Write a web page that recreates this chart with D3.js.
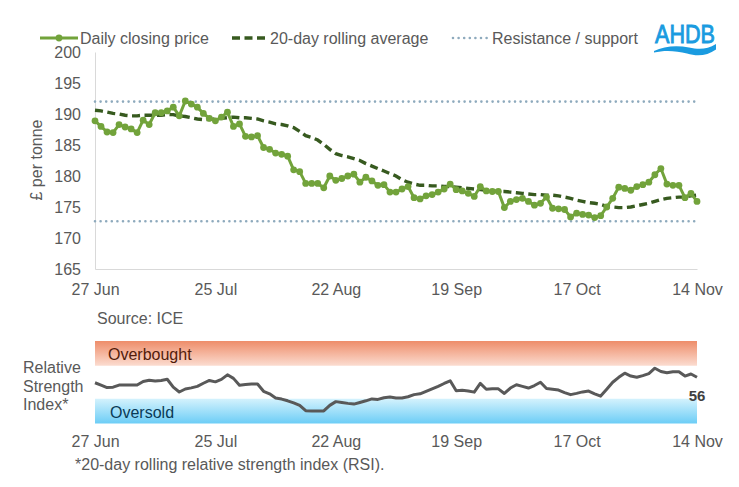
<!DOCTYPE html>
<html>
<head>
<meta charset="utf-8">
<script src="https://cdn.jsdelivr.net/npm/d3@7"></script>
<style>
  body { margin: 0; background: #fff; }
  text { font-family: "Liberation Sans", Arial, sans-serif; }
</style>
</head>
<body>
<div id="chart"></div>
<script>
//Data (one value per trading day, 27 Jun - 14 Nov);
const tickLabels = ["27 Jun", "25 Jul", "22 Aug", "19 Sep", "17 Oct", "14 Nov"];

const price = [
  188.9, 188.0, 187.1, 187.0, 188.3, 187.9, 187.6, 187.0, 189.0, 188.3,
  190.2, 190.2, 190.5, 191.1, 189.7, 192.1, 191.6, 191.1, 190.1, 189.3,
  188.9, 189.5, 190.3, 188.0, 188.4, 186.4, 186.3, 186.5, 184.6, 184.3,
  183.7, 183.5, 183.2, 181.0, 180.7, 178.8, 178.8, 178.8, 178.1, 180.0,
  179.3, 179.6, 180.0, 180.3, 179.0, 179.8, 179.2, 178.5, 178.6, 177.4,
  177.4, 177.9, 178.3, 176.5, 176.3, 176.8, 177.0, 177.4, 177.9, 178.7,
  177.8, 177.6, 177.2, 176.7, 178.3, 177.6, 177.5, 177.5, 174.9, 175.9,
  176.2, 176.4, 175.9, 175.3, 175.6, 176.6, 174.8, 174.7, 174.6, 173.4,
  174.0, 173.8, 173.7, 173.3, 173.6, 175.0, 176.4, 178.2, 178.0, 177.7,
  178.3, 178.6, 179.0, 180.2, 181.2, 178.7, 178.5, 178.5, 176.5, 177.2, 175.9
];

const rollingAvg = [
  190.6, 190.5, 190.3, 190.1, 190.0, 189.8, 189.7, 189.7, 189.8, 189.8,
  189.8, 189.8, 189.9, 189.9, 189.7, 189.6, 189.4, 189.2, 189.1, 189.1,
  189.2, 189.3, 189.4, 189.5, 189.4, 189.4, 189.3, 189.2, 188.9, 188.7,
  188.4, 188.3, 188.1, 187.8, 187.2, 186.5, 186.2, 185.8, 185.1, 184.3,
  183.6, 183.3, 183.1, 182.8, 182.5, 182.0, 181.6, 181.2, 180.8, 180.4,
  180.0, 179.4, 179.0, 178.7, 178.5, 178.5, 178.4, 178.4, 178.3, 178.3,
  178.2, 178.1, 178.0, 177.9, 177.8, 177.7, 177.6, 177.5, 177.5, 177.4,
  177.3, 177.2, 177.1, 177.0, 177.0, 176.9, 176.9, 176.8, 176.6, 176.4,
  176.1, 175.9, 175.7, 175.6, 175.4, 175.1, 175.0, 174.9, 174.9, 175.0,
  175.2, 175.4, 175.6, 175.9, 176.2, 176.4, 176.5, 176.6, 176.6, 176.8, 176.9
];

const rsi = [
  49.4, 46.5, 43.5, 44.0, 46.6, 46.6, 46.6, 46.6, 51.0, 52.5,
  51.5, 52.2, 53.6, 44.0, 38.2, 41.8, 43.2, 45.0, 48.8, 52.2,
  50.5, 53.5, 59.0, 54.7, 46.5, 47.3, 47.8, 47.8, 39.0, 36.0,
  31.0, 29.6, 27.5, 25.0, 22.0, 15.5, 15.1, 15.2, 15.3, 22.0,
  26.5, 25.5, 24.4, 23.5, 25.5, 27.5, 29.8, 29.2, 31.2, 32.0,
  31.0, 31.0, 32.4, 35.0, 36.0, 39.0, 42.0, 45.0, 48.5, 51.8,
  39.8, 40.2, 39.5, 38.0, 48.6, 41.5, 42.0, 42.0, 36.4, 43.0,
  47.0, 45.0, 43.0, 46.0, 50.0, 42.5, 41.5, 40.5, 37.5, 35.0,
  36.5, 38.3, 39.3, 36.0, 33.2, 41.5, 50.0, 56.0, 61.0, 57.5,
  56.0, 58.0, 60.5, 67.0, 63.0, 61.5, 62.8, 62.8, 57.5, 60.0, 56.0
];

const resistance = 192;
const support = 172.7;
const rsiBands = [{name: "Overbought", from: 70, to: 100}, {name: "Oversold", from: 0, to: 30}];

//Set Height and Width Vars;
const w = 739;
const h = 487;
const green = "#72a33b";
const darkGreen = "#375a1f";
const dotBlue = "#8eaabd";
const grey = "#595959";

//Initialize SVG;
const svg = d3.select("#chart")
  .append("svg")
    .attr("width", w)
    .attr("height", h);

const defs = svg.append("defs");

//Scales;
const x = d3.scaleLinear().domain([0, price.length - 1]).range([95, 697]);
const y = d3.scaleLinear().domain([165, 200]).range([269, 52]);
const yR = d3.scaleLinear().domain([0, 100]).range([423.5, 341]);
const tickIdx = tickLabels.map((d, i) => i * 20);

//Price axes;
const yAxis = svg.append("g")
  .attr("transform", "translate(95,0)")
  .call(d3.axisLeft(y).tickValues(d3.range(165, 201, 5)).tickSize(0).tickPadding(14));
yAxis.select(".domain").attr("stroke", "#d9d9d9");
yAxis.selectAll("text").attr("font-size", 16).attr("fill", grey).attr("font-family", "Liberation Sans, Arial");

const xAxis = svg.append("g")
  .attr("transform", "translate(0,269)")
  .call(d3.axisBottom(x).tickValues(tickIdx).tickFormat((d, i) => tickLabels[i]).tickSize(0).tickPadding(15));
xAxis.select(".domain").attr("stroke", "#d9d9d9");
xAxis.selectAll("text").attr("font-size", 16).attr("fill", grey).attr("font-family", "Liberation Sans, Arial");

svg.append("text")
  .attr("transform", "translate(42,160) rotate(-90)")
  .attr("text-anchor", "middle")
  .attr("font-size", 16)
  .attr("fill", grey)
  .text("£ per tonne");

//Resistance / support lines;
svg.selectAll(".level")
  .data([resistance, support])
  .enter()
  .append("line")
    .attr("class", "level")
    .attr("x1", x(0)).attr("x2", x(price.length - 1))
    .attr("y1", d => y(d)).attr("y2", d => y(d))
    .attr("stroke", dotBlue)
    .attr("stroke-width", 2.6)
    .attr("stroke-linecap", "round")
    .attr("stroke-dasharray", "0,5.6");

//Rolling average;
const line = d3.line().x((d, i) => x(i)).y(d => y(d));
svg.append("path")
  .datum(rollingAvg)
  .attr("d", line)
  .attr("fill", "none")
  .attr("stroke", darkGreen)
  .attr("stroke-width", 3.4)
  .attr("stroke-dasharray", "8,4.5");

//Daily closing price;
svg.append("path")
  .datum(price)
  .attr("d", line)
  .attr("fill", "none")
  .attr("stroke", green)
  .attr("stroke-width", 3)
  .attr("stroke-linejoin", "round");

svg.selectAll(".pt")
  .data(price)
  .enter()
  .append("circle")
    .attr("class", "pt")
    .attr("cx", (d, i) => x(i))
    .attr("cy", d => y(d))
    .attr("r", 3.4)
    .attr("fill", green);

//Legend;
const legend = svg.append("g");
legend.append("line").attr("x1", 40).attr("x2", 78).attr("y1", 38).attr("y2", 38)
  .attr("stroke", green).attr("stroke-width", 3);
legend.append("circle").attr("cx", 59).attr("cy", 38).attr("r", 3.4).attr("fill", green);
legend.append("line").attr("x1", 232).attr("x2", 266).attr("y1", 38).attr("y2", 38)
  .attr("stroke", darkGreen).attr("stroke-width", 3.4).attr("stroke-dasharray", "8,4.5");
legend.append("line").attr("x1", 453).attr("x2", 487).attr("y1", 38).attr("y2", 38)
  .attr("stroke", dotBlue).attr("stroke-width", 2.6).attr("stroke-linecap", "round").attr("stroke-dasharray", "0,5.6");
legend.selectAll("text")
  .data([[80, "Daily closing price"], [270, "20-day rolling average"], [492, "Resistance / support"]])
  .enter()
  .append("text")
    .attr("x", d => d[0])
    .attr("y", 44)
    .attr("font-size", 16)
    .attr("fill", grey)
    .text(d => d[1]);

//AHDB logo;
svg.append("text")
  .attr("x", 655).attr("y", 43)
  .attr("font-size", 25)
  .attr("textLength", 60)
  .attr("lengthAdjust", "spacingAndGlyphs")
  .attr("fill", "#1a9be0")
  .attr("stroke", "#1a9be0")
  .attr("stroke-width", 0.9)
  .text("AHDB");
svg.append("path")
  .attr("d", "M654,51 C664,46 677,45 689,47.5 C699,49.5 707,49.5 716,44 L716,49.5 C707,56 697,56.5 687,53.5 C676,50.5 664,50 654,52.5 Z")
  .attr("fill", "#1a9be0");

//Source;
svg.append("text")
  .attr("x", 97).attr("y", 324)
  .attr("font-size", 16)
  .attr("fill", grey)
  .text("Source: ICE");

//RSI bands;
const gradColours = {Overbought: ["#ee8d6a", "#fbdcd0"], Oversold: ["#d4f2fd", "#6ccdf6"]};
rsiBands.forEach(function(b){
  const g = defs.append("linearGradient")
    .attr("id", "grad" + b.name)
    .attr("x1", 0).attr("x2", 0).attr("y1", 0).attr("y2", 1);
  g.append("stop").attr("offset", "0%").attr("stop-color", gradColours[b.name][0]);
  g.append("stop").attr("offset", "100%").attr("stop-color", gradColours[b.name][1]);
});

svg.selectAll(".band")
  .data(rsiBands)
  .enter()
  .append("rect")
    .attr("class", "band")
    .attr("x", x(0))
    .attr("width", x(price.length - 1) - x(0))
    .attr("y", d => yR(d.to))
    .attr("height", d => yR(d.from) - yR(d.to))
    .attr("fill", d => "url(#grad" + d.name + ")");

svg.append("text").attr("x", 108).attr("y", 360).attr("font-size", 16).attr("fill", "#521b0b").text("Overbought");
svg.append("text").attr("x", 110).attr("y", 418).attr("font-size", 16).attr("fill", "#0a3a56").text("Oversold");

//RSI line;
svg.append("path")
  .datum(rsi)
  .attr("d", d3.line().x((d, i) => x(i)).y(d => yR(d)))
  .attr("fill", "none")
  .attr("stroke", grey)
  .attr("stroke-width", 3)
  .attr("stroke-linejoin", "round");

svg.append("text")
  .attr("x", x(rsi.length - 1))
  .attr("y", 401)
  .attr("text-anchor", "middle")
  .attr("font-size", 15)
  .attr("font-weight", "bold")
  .attr("fill", "#404040")
  .text(Math.round(rsi[rsi.length - 1]));

//RSI label;
svg.append("text")
  .attr("x", 23)
  .attr("font-size", 16)
  .attr("fill", grey)
  .selectAll("tspan")
  .data(["Relative", "Strength", "Index*"])
  .enter()
  .append("tspan")
    .attr("x", 23)
    .attr("y", (d, i) => 373 + i * 18.5)
    .text(d => d);

//RSI x axis;
const xAxis2 = svg.append("g")
  .attr("transform", "translate(0,423.5)")
  .call(d3.axisBottom(x).tickValues(tickIdx).tickFormat((d, i) => tickLabels[i]).tickSize(0).tickPadding(12));
xAxis2.select(".domain").attr("stroke", "none");
xAxis2.selectAll("text").attr("font-size", 16).attr("fill", grey).attr("font-family", "Liberation Sans, Arial");

svg.append("text")
  .attr("x", 75).attr("y", 470)
  .attr("font-size", 16)
  .attr("fill", grey)
  .text("*20-day rolling relative strength index (RSI).");
</script>
</body>
</html>
